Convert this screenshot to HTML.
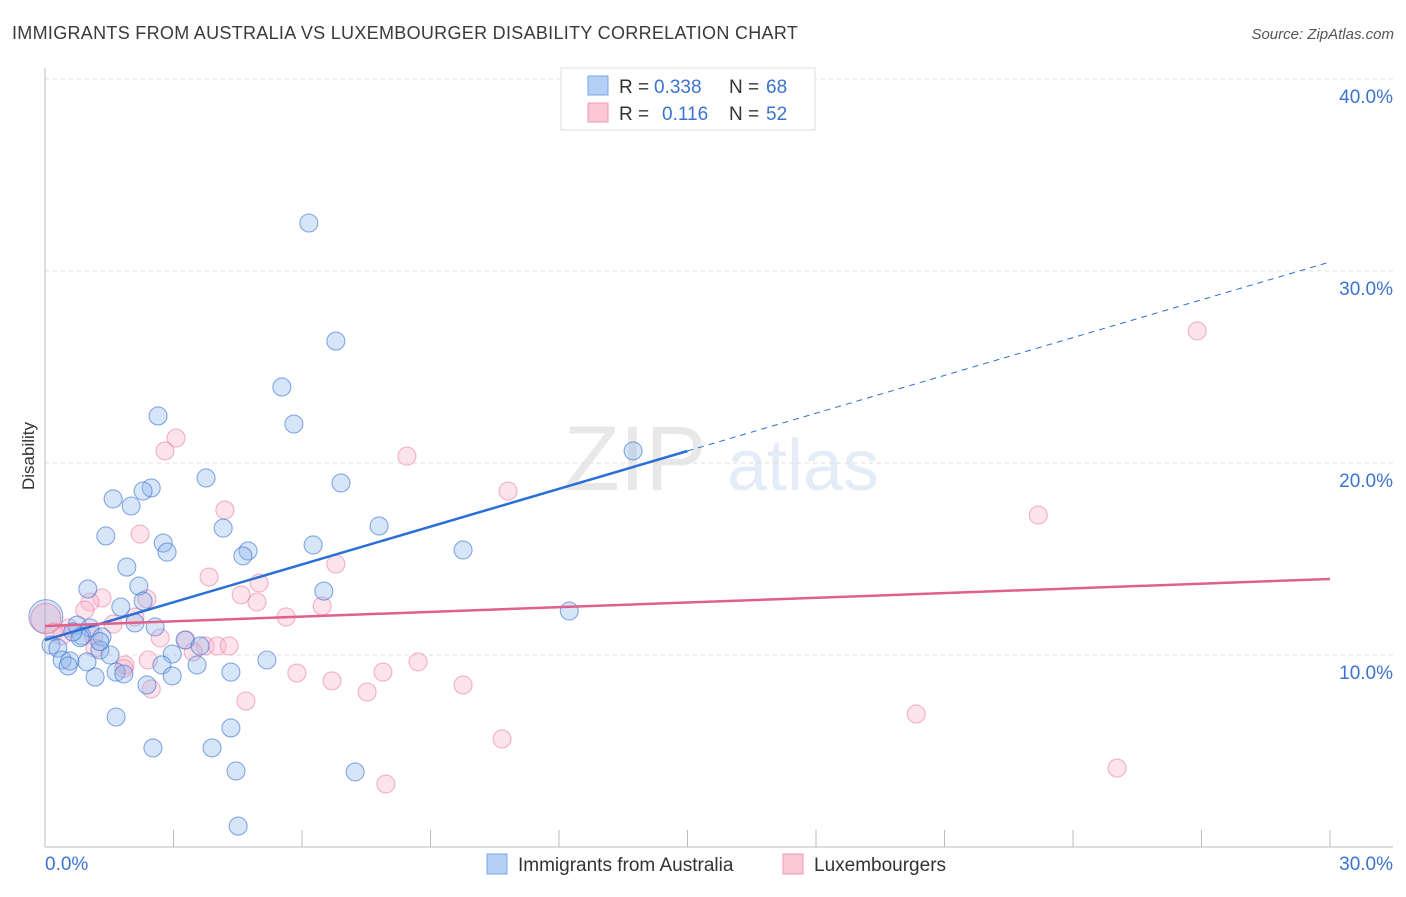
<!DOCTYPE html>
<html><head><meta charset="utf-8">
<style>
body{margin:0;background:#fff;font-family:"Liberation Sans",sans-serif;}
svg text{font-family:"Liberation Sans",sans-serif;}
</style></head>
<body>
<svg id="chart" width="1406" height="892" viewBox="0 0 1406 892" xmlns="http://www.w3.org/2000/svg">
<text x="12" y="39" font-size="18" fill="#3a3a3a" letter-spacing="0.3">IMMIGRANTS FROM AUSTRALIA VS LUXEMBOURGER DISABILITY CORRELATION CHART</text>
<text x="1394" y="39" font-size="15" fill="#555" text-anchor="end" font-style="italic">Source: ZipAtlas.com</text>
<text transform="translate(34,456) rotate(-90)" font-size="17" fill="#333" text-anchor="middle">Disability</text>
<g opacity="0.13">
<text x="635" y="490" font-size="92" fill="#555" text-anchor="middle" font-family="Liberation Serif, serif">ZIP</text>
<text x="803" y="490" font-size="72" fill="#3b73d1" text-anchor="middle">atlas</text>
</g>
<g id="grid"></g>
<g id="axes"></g>
<g id="marks"></g>
<g>
<rect x="561" y="68" width="254" height="62" fill="#fff" stroke="#ddd"/>
<rect x="588" y="76" width="20" height="19" fill="#b6d0f5" stroke="#7aa5e6"/>
<rect x="588" y="103" width="20" height="19" fill="#fcc8d8" stroke="#f09ab5"/>
<text x="619" y="93" font-size="19" fill="#333">R =</text>
<text x="654" y="93" font-size="19" fill="#3b73d1">0.338</text>
<text x="729" y="93" font-size="19" fill="#333">N =</text>
<text x="766" y="93" font-size="19" fill="#3b73d1">68</text>
<text x="619" y="120" font-size="19" fill="#333">R =</text>
<text x="662" y="120" font-size="19" fill="#3b73d1">0.116</text>
<text x="729" y="120" font-size="19" fill="#333">N =</text>
<text x="766" y="120" font-size="19" fill="#3b73d1">52</text>
</g>
<g>
<rect x="487" y="854" width="20" height="20" fill="#b6d0f5" stroke="#7aa5e6"/>
<text x="518" y="871" font-size="19" fill="#333">Immigrants from Australia</text>
<rect x="783" y="854" width="20" height="20" fill="#fcc8d8" stroke="#f09ab5"/>
<text x="814" y="871" font-size="19" fill="#333">Luxembourgers</text>
</g>
</svg>
<script>
const yTicks=[10,20,30,40];
const yTickLabels=["10.0%","20.0%","30.0%","40.0%"];
const xTickLabels=["0.0%","30.0%"];
const blueX=[6.16,6.79,5.53,5.81,2.64,13.73,3.76,6.91,2.48,2.29,1.59,2.01,7.80,4.16,1.42,2.76,2.85,6.26,9.76,4.74,4.62,1.91,2.19,1.00,6.51,2.29,1.77,12.24,2.10,0.75,2.57,1.05,1.33,0.86,3.27,3.62,0.14,0.30,1.28,1.52,2.97,0.40,0.58,0.98,5.18,3.55,2.73,0.54,1.66,4.34,1.84,1.17,2.97,2.38,1.66,4.34,2.52,3.90,4.46,7.24,4.51,1.28,0.82,0.65];
const blueY=[32.5,26.35,23.96,22.03,22.45,20.63,19.22,18.96,18.7,18.54,18.13,17.76,16.72,16.61,16.2,15.83,15.36,15.73,15.47,15.42,15.16,14.58,13.59,13.44,13.33,12.81,12.5,12.29,11.67,11.56,11.46,11.41,10.94,10.99,10.78,10.47,10.52,10.36,10.26,10.0,10.05,9.74,9.69,9.64,9.74,9.48,9.48,9.43,9.11,9.11,9.01,8.85,8.91,8.44,6.77,6.2,5.16,5.16,3.96,3.91,1.09,10.7,10.9,11.2];
const pinkX=[26.9,3.06,2.80,8.45,10.81,4.20,23.19,2.22,6.79,3.83,5.0,4.58,1.33,2.38,4.95,1.05,6.47,0.93,5.63,2.10,1.59,0.56,0.21,1.14,2.69,3.29,3.74,4.02,4.30,1.17,3.46,2.41,1.87,8.71,5.88,7.89,6.70,9.76,7.52,2.48,4.69,20.34,10.67,25.03,7.96,0.40,1.84];
const pinkY=[26.88,21.3,20.63,20.36,18.54,17.55,17.29,16.3,14.74,14.06,13.75,13.13,12.97,12.92,12.76,12.76,12.55,12.34,11.98,11.98,11.61,11.41,11.2,10.99,10.89,10.78,10.47,10.47,10.47,10.36,10.16,9.74,9.48,9.64,9.06,9.11,8.65,8.44,8.07,8.23,7.6,6.93,5.63,4.11,3.28,11.0,9.3];
const blueTrend=[10.78,30.47];
const pinkTrend=[11.51,13.96];
const NS="http://www.w3.org/2000/svg";
const xs=v=>45+v/30*1285;
const ys=v=>847-v*19.2;
function mk(tag,attrs,parent){const e=document.createElementNS(NS,tag);for(const k in attrs)e.setAttribute(k,attrs[k]);document.getElementById(parent).appendChild(e);return e;}
yTicks.forEach((t,i)=>{
 let g=mk('line',{x1:45,x2:1393,y1:ys(t),y2:ys(t),stroke:'#ddd','stroke-dasharray':'4,4'},'grid');
 
 
 let l=mk('text',{x:1393,y:ys(t)+24,'font-size':19,fill:'#3b73d1','text-anchor':'end'},'grid');
 l.textContent=yTickLabels[i];
 
 
});
let a1=mk('line',{x1:45,x2:45,y1:68,y2:847,stroke:'#bbb'},'axes');


let a2=mk('line',{x1:45,x2:1393,y1:847,y2:847,stroke:'#bbb'},'axes');


for(let i=0;i<=10;i++){
 let t=mk('line',{x1:xs(i*3),x2:xs(i*3),y1:830,y2:847,stroke:'#bbb'},'axes');
 
 
}
[[0,'start',45],[30,'end',1393]].forEach((d,i)=>{
 let l=mk('text',{x:d[2],y:870,'font-size':19,fill:'#3b73d1','text-anchor':d[1]},'axes');
 l.textContent=xTickLabels[i];
 
 
});
let bb=mk('circle',{cx:xs(0.02),cy:ys(12.0),r:17,fill:'rgba(120,165,230,0.3)',stroke:'rgba(59,115,209,0.6)'},'marks');


let pb=mk('circle',{cx:xs(0.02),cy:ys(11.9),r:15,fill:'rgba(245,160,190,0.3)',stroke:'rgba(230,110,150,0.6)'},'marks');


pinkX.forEach((x,i)=>{
 let c=mk('circle',{cx:xs(x),cy:ys(pinkY[i]),r:9,fill:'rgba(248,175,200,0.35)',stroke:'rgba(232,120,160,0.55)','stroke-width':1.1},'marks');
 
 
});
blueX.forEach((x,i)=>{
 let c=mk('circle',{cx:xs(x),cy:ys(blueY[i]),r:9,fill:'rgba(140,180,235,0.35)',stroke:'rgba(59,115,209,0.6)','stroke-width':1.1},'marks');
 
 
});
const by=x=>blueTrend[0]+(blueTrend[1]-blueTrend[0])*x/30;
let bt=mk('line',{x1:xs(0),y1:ys(by(0)),x2:xs(15),y2:ys(by(15)),stroke:'#2a6fd6','stroke-width':2.5},'marks');


let bd=mk('line',{x1:xs(15),y1:ys(by(15)),x2:xs(30),y2:ys(by(30)),stroke:'#2a6fd6','stroke-width':1,'stroke-dasharray':'6,5'},'marks');


let pt=mk('line',{x1:xs(0),y1:ys(pinkTrend[0]),x2:xs(30),y2:ys(pinkTrend[1]),stroke:'#e0608c','stroke-width':2.5},'marks');


</script>
</body></html>
